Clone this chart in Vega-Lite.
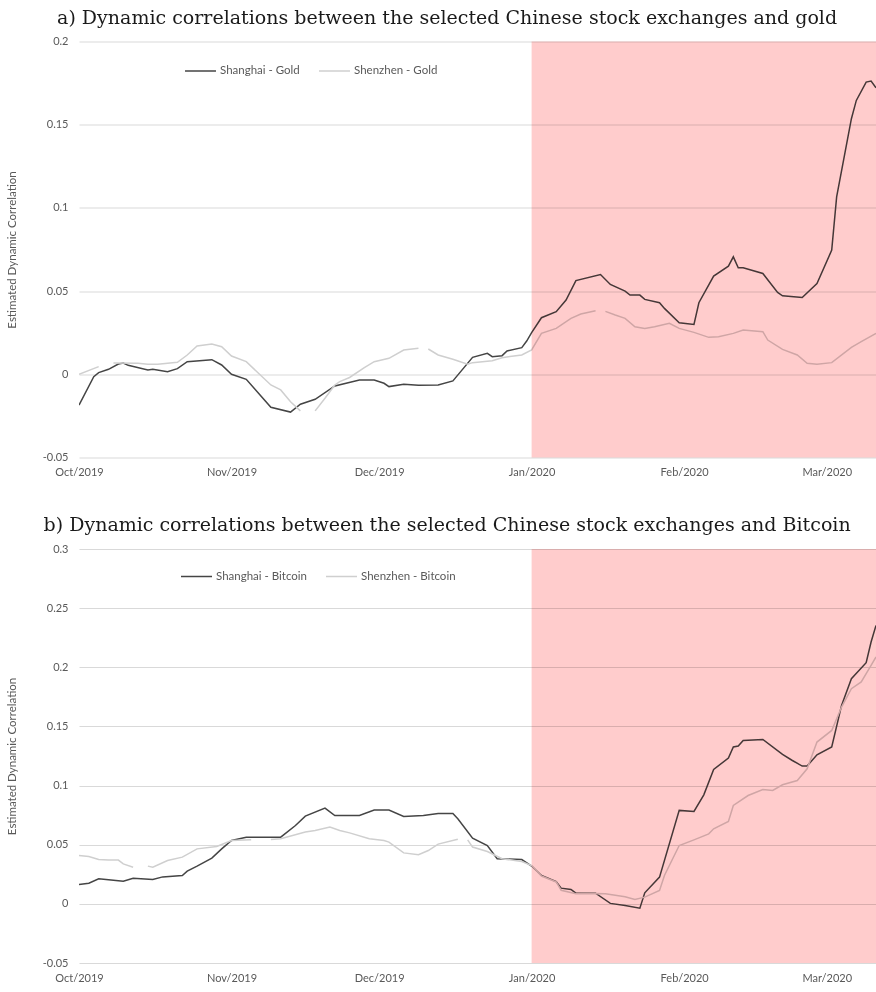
{
  "$schema": "https://vega.github.io/schema/vega-lite/v6.json",
  "background": "white",
  "padding": {"left": 6, "top": 8.5, "right": 0, "bottom": 0},
  "spacing": 38.5,
  "config": {
    "view": {"stroke": null},
    "font": "Lato",
    "axis": {
      "labelFont": "Lato", "labelFontSize": 11, "labelColor": "#595959",
      "titleFont": "Lato", "titleFontSize": 11.5, "titleColor": "#595959", "titleFontWeight": "normal",
      "domain": false, "ticks": false, "gridColor": "#d9d9d9", "gridWidth": 1
    },
    "title": {"font": "DejaVu Serif", "fontSize": 19, "fontWeight": "normal", "color": "#1a1a1a", "anchor": "middle", "frame": "bounds", "offset": 8, "dx": 6},
    "legend": {
      "orient": "none", "direction": "horizontal", "title": null, "padding": 0,
      "symbolType": "stroke", "symbolSize": 960, "symbolStrokeWidth": 1.5,
      "labelFont": "Lato", "labelFontSize": 11.5, "labelColor": "#595959", "labelOffset": 3,
      "columnPadding": 16
    }
  },
  "datasets": {
    "gold": [
      {"date": "2019-10-01", "series": "Shanghai - Gold", "value": -0.0185},
      {"date": "2019-10-04", "series": "Shanghai - Gold", "value": -0.0014},
      {"date": "2019-10-05", "series": "Shanghai - Gold", "value": 0.001},
      {"date": "2019-10-07", "series": "Shanghai - Gold", "value": 0.003},
      {"date": "2019-10-09", "series": "Shanghai - Gold", "value": 0.0062},
      {"date": "2019-10-10", "series": "Shanghai - Gold", "value": 0.0068},
      {"date": "2019-10-11", "series": "Shanghai - Gold", "value": 0.0054},
      {"date": "2019-10-15", "series": "Shanghai - Gold", "value": 0.0026},
      {"date": "2019-10-16", "series": "Shanghai - Gold", "value": 0.003},
      {"date": "2019-10-19", "series": "Shanghai - Gold", "value": 0.0016},
      {"date": "2019-10-21", "series": "Shanghai - Gold", "value": 0.0034},
      {"date": "2019-10-23", "series": "Shanghai - Gold", "value": 0.0076},
      {"date": "2019-10-28", "series": "Shanghai - Gold", "value": 0.0088},
      {"date": "2019-10-30", "series": "Shanghai - Gold", "value": 0.0056},
      {"date": "2019-11-01", "series": "Shanghai - Gold", "value": 0.0},
      {"date": "2019-11-04", "series": "Shanghai - Gold", "value": -0.003},
      {"date": "2019-11-09", "series": "Shanghai - Gold", "value": -0.0198},
      {"date": "2019-11-13", "series": "Shanghai - Gold", "value": -0.0227},
      {"date": "2019-11-15", "series": "Shanghai - Gold", "value": -0.018},
      {"date": "2019-11-18", "series": "Shanghai - Gold", "value": -0.015},
      {"date": "2019-11-22", "series": "Shanghai - Gold", "value": -0.007},
      {"date": "2019-11-27", "series": "Shanghai - Gold", "value": -0.0034},
      {"date": "2019-11-30", "series": "Shanghai - Gold", "value": -0.0034},
      {"date": "2019-12-02", "series": "Shanghai - Gold", "value": -0.0054},
      {"date": "2019-12-03", "series": "Shanghai - Gold", "value": -0.0074},
      {"date": "2019-12-06", "series": "Shanghai - Gold", "value": -0.006},
      {"date": "2019-12-09", "series": "Shanghai - Gold", "value": -0.0066},
      {"date": "2019-12-13", "series": "Shanghai - Gold", "value": -0.0064},
      {"date": "2019-12-16", "series": "Shanghai - Gold", "value": -0.004},
      {"date": "2019-12-20", "series": "Shanghai - Gold", "value": 0.0102},
      {"date": "2019-12-23", "series": "Shanghai - Gold", "value": 0.0126},
      {"date": "2019-12-24", "series": "Shanghai - Gold", "value": 0.0106},
      {"date": "2019-12-26", "series": "Shanghai - Gold", "value": 0.0112},
      {"date": "2019-12-27", "series": "Shanghai - Gold", "value": 0.014},
      {"date": "2019-12-30", "series": "Shanghai - Gold", "value": 0.016},
      {"date": "2019-12-31", "series": "Shanghai - Gold", "value": 0.02},
      {"date": "2020-01-01", "series": "Shanghai - Gold", "value": 0.025},
      {"date": "2020-01-03", "series": "Shanghai - Gold", "value": 0.034},
      {"date": "2020-01-06", "series": "Shanghai - Gold", "value": 0.0376},
      {"date": "2020-01-08", "series": "Shanghai - Gold", "value": 0.0446},
      {"date": "2020-01-10", "series": "Shanghai - Gold", "value": 0.0563},
      {"date": "2020-01-15", "series": "Shanghai - Gold", "value": 0.06},
      {"date": "2020-01-17", "series": "Shanghai - Gold", "value": 0.054},
      {"date": "2020-01-20", "series": "Shanghai - Gold", "value": 0.05},
      {"date": "2020-01-21", "series": "Shanghai - Gold", "value": 0.0476},
      {"date": "2020-01-23", "series": "Shanghai - Gold", "value": 0.0476},
      {"date": "2020-01-24", "series": "Shanghai - Gold", "value": 0.045},
      {"date": "2020-01-27", "series": "Shanghai - Gold", "value": 0.043},
      {"date": "2020-01-28", "series": "Shanghai - Gold", "value": 0.0396},
      {"date": "2020-01-31", "series": "Shanghai - Gold", "value": 0.031},
      {"date": "2020-02-03", "series": "Shanghai - Gold", "value": 0.03},
      {"date": "2020-02-04", "series": "Shanghai - Gold", "value": 0.043},
      {"date": "2020-02-07", "series": "Shanghai - Gold", "value": 0.059},
      {"date": "2020-02-10", "series": "Shanghai - Gold", "value": 0.065},
      {"date": "2020-02-11", "series": "Shanghai - Gold", "value": 0.0706},
      {"date": "2020-02-12", "series": "Shanghai - Gold", "value": 0.064},
      {"date": "2020-02-13", "series": "Shanghai - Gold", "value": 0.064},
      {"date": "2020-02-17", "series": "Shanghai - Gold", "value": 0.0606},
      {"date": "2020-02-20", "series": "Shanghai - Gold", "value": 0.0492},
      {"date": "2020-02-21", "series": "Shanghai - Gold", "value": 0.0472},
      {"date": "2020-02-25", "series": "Shanghai - Gold", "value": 0.0462},
      {"date": "2020-02-28", "series": "Shanghai - Gold", "value": 0.0546},
      {"date": "2020-03-02", "series": "Shanghai - Gold", "value": 0.0746},
      {"date": "2020-03-03", "series": "Shanghai - Gold", "value": 0.1066},
      {"date": "2020-03-06", "series": "Shanghai - Gold", "value": 0.1536},
      {"date": "2020-03-07", "series": "Shanghai - Gold", "value": 0.1646},
      {"date": "2020-03-09", "series": "Shanghai - Gold", "value": 0.1756},
      {"date": "2020-03-10", "series": "Shanghai - Gold", "value": 0.1762},
      {"date": "2020-03-11", "series": "Shanghai - Gold", "value": 0.1722},
      {"date": "2019-10-01", "series": "Shenzhen - Gold", "value": 0.0},
      {"date": "2019-10-05", "series": "Shenzhen - Gold", "value": 0.0046},
      {"date": "2019-10-06", "series": "Shenzhen - Gold", "value": null},
      {"date": "2019-10-08", "series": "Shenzhen - Gold", "value": 0.0068},
      {"date": "2019-10-13", "series": "Shenzhen - Gold", "value": 0.0066},
      {"date": "2019-10-15", "series": "Shenzhen - Gold", "value": 0.006},
      {"date": "2019-10-17", "series": "Shenzhen - Gold", "value": 0.006},
      {"date": "2019-10-21", "series": "Shenzhen - Gold", "value": 0.0072},
      {"date": "2019-10-23", "series": "Shenzhen - Gold", "value": 0.0116},
      {"date": "2019-10-25", "series": "Shenzhen - Gold", "value": 0.017},
      {"date": "2019-10-28", "series": "Shenzhen - Gold", "value": 0.0182},
      {"date": "2019-10-30", "series": "Shenzhen - Gold", "value": 0.0166},
      {"date": "2019-11-01", "series": "Shenzhen - Gold", "value": 0.011},
      {"date": "2019-11-04", "series": "Shenzhen - Gold", "value": 0.0076},
      {"date": "2019-11-09", "series": "Shenzhen - Gold", "value": -0.0064},
      {"date": "2019-11-11", "series": "Shenzhen - Gold", "value": -0.0094},
      {"date": "2019-11-13", "series": "Shenzhen - Gold", "value": -0.0165},
      {"date": "2019-11-15", "series": "Shenzhen - Gold", "value": -0.022},
      {"date": "2019-11-16", "series": "Shenzhen - Gold", "value": null},
      {"date": "2019-11-18", "series": "Shenzhen - Gold", "value": -0.022},
      {"date": "2019-11-20", "series": "Shenzhen - Gold", "value": -0.0144},
      {"date": "2019-11-22", "series": "Shenzhen - Gold", "value": -0.0064},
      {"date": "2019-11-23", "series": "Shenzhen - Gold", "value": -0.0044},
      {"date": "2019-11-25", "series": "Shenzhen - Gold", "value": -0.0019},
      {"date": "2019-11-28", "series": "Shenzhen - Gold", "value": 0.004},
      {"date": "2019-11-30", "series": "Shenzhen - Gold", "value": 0.0076},
      {"date": "2019-12-03", "series": "Shenzhen - Gold", "value": 0.0096},
      {"date": "2019-12-06", "series": "Shenzhen - Gold", "value": 0.0146},
      {"date": "2019-12-09", "series": "Shenzhen - Gold", "value": 0.0156},
      {"date": "2019-12-10", "series": "Shenzhen - Gold", "value": null},
      {"date": "2019-12-11", "series": "Shenzhen - Gold", "value": 0.0152},
      {"date": "2019-12-13", "series": "Shenzhen - Gold", "value": 0.0116},
      {"date": "2019-12-16", "series": "Shenzhen - Gold", "value": 0.009},
      {"date": "2019-12-19", "series": "Shenzhen - Gold", "value": 0.006},
      {"date": "2019-12-20", "series": "Shenzhen - Gold", "value": 0.007},
      {"date": "2019-12-24", "series": "Shenzhen - Gold", "value": 0.0082},
      {"date": "2019-12-26", "series": "Shenzhen - Gold", "value": 0.01},
      {"date": "2019-12-30", "series": "Shenzhen - Gold", "value": 0.0116},
      {"date": "2020-01-01", "series": "Shenzhen - Gold", "value": 0.0146},
      {"date": "2020-01-03", "series": "Shenzhen - Gold", "value": 0.0246},
      {"date": "2020-01-06", "series": "Shenzhen - Gold", "value": 0.0276},
      {"date": "2020-01-09", "series": "Shenzhen - Gold", "value": 0.0336},
      {"date": "2020-01-11", "series": "Shenzhen - Gold", "value": 0.0362},
      {"date": "2020-01-14", "series": "Shenzhen - Gold", "value": 0.0382},
      {"date": "2020-01-15", "series": "Shenzhen - Gold", "value": null},
      {"date": "2020-01-16", "series": "Shenzhen - Gold", "value": 0.0378},
      {"date": "2020-01-18", "series": "Shenzhen - Gold", "value": 0.0356},
      {"date": "2020-01-20", "series": "Shenzhen - Gold", "value": 0.0336},
      {"date": "2020-01-22", "series": "Shenzhen - Gold", "value": 0.0286},
      {"date": "2020-01-24", "series": "Shenzhen - Gold", "value": 0.0276},
      {"date": "2020-01-26", "series": "Shenzhen - Gold", "value": 0.0286},
      {"date": "2020-01-29", "series": "Shenzhen - Gold", "value": 0.0306},
      {"date": "2020-01-31", "series": "Shenzhen - Gold", "value": 0.0276},
      {"date": "2020-02-03", "series": "Shenzhen - Gold", "value": 0.0252},
      {"date": "2020-02-06", "series": "Shenzhen - Gold", "value": 0.0222},
      {"date": "2020-02-08", "series": "Shenzhen - Gold", "value": 0.0226},
      {"date": "2020-02-11", "series": "Shenzhen - Gold", "value": 0.0246},
      {"date": "2020-02-13", "series": "Shenzhen - Gold", "value": 0.0266},
      {"date": "2020-02-17", "series": "Shenzhen - Gold", "value": 0.0256},
      {"date": "2020-02-18", "series": "Shenzhen - Gold", "value": 0.0206},
      {"date": "2020-02-21", "series": "Shenzhen - Gold", "value": 0.015},
      {"date": "2020-02-24", "series": "Shenzhen - Gold", "value": 0.0116},
      {"date": "2020-02-26", "series": "Shenzhen - Gold", "value": 0.0066},
      {"date": "2020-02-28", "series": "Shenzhen - Gold", "value": 0.006},
      {"date": "2020-03-02", "series": "Shenzhen - Gold", "value": 0.007},
      {"date": "2020-03-06", "series": "Shenzhen - Gold", "value": 0.0162},
      {"date": "2020-03-08", "series": "Shenzhen - Gold", "value": 0.0196},
      {"date": "2020-03-11", "series": "Shenzhen - Gold", "value": 0.0246}
    ],
    "bitcoin": [
      {"date": "2019-10-01", "series": "Shanghai - Bitcoin", "value": 0.0163},
      {"date": "2019-10-03", "series": "Shanghai - Bitcoin", "value": 0.0175},
      {"date": "2019-10-05", "series": "Shanghai - Bitcoin", "value": 0.0212},
      {"date": "2019-10-07", "series": "Shanghai - Bitcoin", "value": 0.0203},
      {"date": "2019-10-10", "series": "Shanghai - Bitcoin", "value": 0.0192},
      {"date": "2019-10-12", "series": "Shanghai - Bitcoin", "value": 0.0217},
      {"date": "2019-10-16", "series": "Shanghai - Bitcoin", "value": 0.0206},
      {"date": "2019-10-18", "series": "Shanghai - Bitcoin", "value": 0.0228},
      {"date": "2019-10-22", "series": "Shanghai - Bitcoin", "value": 0.024},
      {"date": "2019-10-23", "series": "Shanghai - Bitcoin", "value": 0.0277},
      {"date": "2019-10-25", "series": "Shanghai - Bitcoin", "value": 0.0319},
      {"date": "2019-10-28", "series": "Shanghai - Bitcoin", "value": 0.0387},
      {"date": "2019-10-30", "series": "Shanghai - Bitcoin", "value": 0.0465},
      {"date": "2019-11-01", "series": "Shanghai - Bitcoin", "value": 0.0536},
      {"date": "2019-11-04", "series": "Shanghai - Bitcoin", "value": 0.0564},
      {"date": "2019-11-11", "series": "Shanghai - Bitcoin", "value": 0.0564},
      {"date": "2019-11-14", "series": "Shanghai - Bitcoin", "value": 0.0662},
      {"date": "2019-11-16", "series": "Shanghai - Bitcoin", "value": 0.0742},
      {"date": "2019-11-20", "series": "Shanghai - Bitcoin", "value": 0.081},
      {"date": "2019-11-22", "series": "Shanghai - Bitcoin", "value": 0.0747},
      {"date": "2019-11-27", "series": "Shanghai - Bitcoin", "value": 0.0747},
      {"date": "2019-11-30", "series": "Shanghai - Bitcoin", "value": 0.0793},
      {"date": "2019-12-03", "series": "Shanghai - Bitcoin", "value": 0.0793},
      {"date": "2019-12-06", "series": "Shanghai - Bitcoin", "value": 0.0739},
      {"date": "2019-12-10", "series": "Shanghai - Bitcoin", "value": 0.0747},
      {"date": "2019-12-13", "series": "Shanghai - Bitcoin", "value": 0.0764},
      {"date": "2019-12-16", "series": "Shanghai - Bitcoin", "value": 0.0764},
      {"date": "2019-12-17", "series": "Shanghai - Bitcoin", "value": 0.0719},
      {"date": "2019-12-20", "series": "Shanghai - Bitcoin", "value": 0.0556},
      {"date": "2019-12-23", "series": "Shanghai - Bitcoin", "value": 0.0493},
      {"date": "2019-12-25", "series": "Shanghai - Bitcoin", "value": 0.0381},
      {"date": "2019-12-30", "series": "Shanghai - Bitcoin", "value": 0.0375},
      {"date": "2020-01-01", "series": "Shanghai - Bitcoin", "value": 0.032},
      {"date": "2020-01-03", "series": "Shanghai - Bitcoin", "value": 0.024},
      {"date": "2020-01-06", "series": "Shanghai - Bitcoin", "value": 0.0189},
      {"date": "2020-01-07", "series": "Shanghai - Bitcoin", "value": 0.0133},
      {"date": "2020-01-09", "series": "Shanghai - Bitcoin", "value": 0.0122},
      {"date": "2020-01-10", "series": "Shanghai - Bitcoin", "value": 0.009},
      {"date": "2020-01-14", "series": "Shanghai - Bitcoin", "value": 0.009},
      {"date": "2020-01-17", "series": "Shanghai - Bitcoin", "value": 0.0004},
      {"date": "2020-01-20", "series": "Shanghai - Bitcoin", "value": -0.0014},
      {"date": "2020-01-23", "series": "Shanghai - Bitcoin", "value": -0.0037},
      {"date": "2020-01-24", "series": "Shanghai - Bitcoin", "value": 0.0093},
      {"date": "2020-01-27", "series": "Shanghai - Bitcoin", "value": 0.0226},
      {"date": "2020-01-31", "series": "Shanghai - Bitcoin", "value": 0.079},
      {"date": "2020-02-03", "series": "Shanghai - Bitcoin", "value": 0.0781},
      {"date": "2020-02-05", "series": "Shanghai - Bitcoin", "value": 0.0922},
      {"date": "2020-02-07", "series": "Shanghai - Bitcoin", "value": 0.1136},
      {"date": "2020-02-10", "series": "Shanghai - Bitcoin", "value": 0.1233},
      {"date": "2020-02-11", "series": "Shanghai - Bitcoin", "value": 0.1326},
      {"date": "2020-02-12", "series": "Shanghai - Bitcoin", "value": 0.1334},
      {"date": "2020-02-13", "series": "Shanghai - Bitcoin", "value": 0.1382},
      {"date": "2020-02-17", "series": "Shanghai - Bitcoin", "value": 0.139},
      {"date": "2020-02-21", "series": "Shanghai - Bitcoin", "value": 0.1263},
      {"date": "2020-02-23", "series": "Shanghai - Bitcoin", "value": 0.1212},
      {"date": "2020-02-25", "series": "Shanghai - Bitcoin", "value": 0.1165},
      {"date": "2020-02-26", "series": "Shanghai - Bitcoin", "value": 0.1165},
      {"date": "2020-02-28", "series": "Shanghai - Bitcoin", "value": 0.126},
      {"date": "2020-03-02", "series": "Shanghai - Bitcoin", "value": 0.1326},
      {"date": "2020-03-04", "series": "Shanghai - Bitcoin", "value": 0.1678},
      {"date": "2020-03-06", "series": "Shanghai - Bitcoin", "value": 0.1904},
      {"date": "2020-03-09", "series": "Shanghai - Bitcoin", "value": 0.2039},
      {"date": "2020-03-10", "series": "Shanghai - Bitcoin", "value": 0.2214},
      {"date": "2020-03-11", "series": "Shanghai - Bitcoin", "value": 0.2354},
      {"date": "2019-10-01", "series": "Shenzhen - Bitcoin", "value": 0.0409},
      {"date": "2019-10-03", "series": "Shenzhen - Bitcoin", "value": 0.04},
      {"date": "2019-10-05", "series": "Shenzhen - Bitcoin", "value": 0.0375},
      {"date": "2019-10-07", "series": "Shenzhen - Bitcoin", "value": 0.037},
      {"date": "2019-10-09", "series": "Shenzhen - Bitcoin", "value": 0.037},
      {"date": "2019-10-10", "series": "Shenzhen - Bitcoin", "value": 0.0338},
      {"date": "2019-10-12", "series": "Shenzhen - Bitcoin", "value": 0.031},
      {"date": "2019-10-13", "series": "Shenzhen - Bitcoin", "value": null},
      {"date": "2019-10-15", "series": "Shenzhen - Bitcoin", "value": 0.0319},
      {"date": "2019-10-16", "series": "Shenzhen - Bitcoin", "value": 0.031},
      {"date": "2019-10-19", "series": "Shenzhen - Bitcoin", "value": 0.0366},
      {"date": "2019-10-22", "series": "Shenzhen - Bitcoin", "value": 0.0395},
      {"date": "2019-10-25", "series": "Shenzhen - Bitcoin", "value": 0.0465},
      {"date": "2019-10-29", "series": "Shenzhen - Bitcoin", "value": 0.0485},
      {"date": "2019-11-01", "series": "Shenzhen - Bitcoin", "value": 0.0536},
      {"date": "2019-11-05", "series": "Shenzhen - Bitcoin", "value": 0.0541},
      {"date": "2019-11-07", "series": "Shenzhen - Bitcoin", "value": null},
      {"date": "2019-11-09", "series": "Shenzhen - Bitcoin", "value": 0.0544},
      {"date": "2019-11-11", "series": "Shenzhen - Bitcoin", "value": 0.055},
      {"date": "2019-11-16", "series": "Shenzhen - Bitcoin", "value": 0.0607},
      {"date": "2019-11-18", "series": "Shenzhen - Bitcoin", "value": 0.062},
      {"date": "2019-11-21", "series": "Shenzhen - Bitcoin", "value": 0.0649},
      {"date": "2019-11-23", "series": "Shenzhen - Bitcoin", "value": 0.062},
      {"date": "2019-11-25", "series": "Shenzhen - Bitcoin", "value": 0.06},
      {"date": "2019-11-29", "series": "Shenzhen - Bitcoin", "value": 0.055},
      {"date": "2019-12-02", "series": "Shenzhen - Bitcoin", "value": 0.0536},
      {"date": "2019-12-03", "series": "Shenzhen - Bitcoin", "value": 0.0522},
      {"date": "2019-12-06", "series": "Shenzhen - Bitcoin", "value": 0.0431},
      {"date": "2019-12-09", "series": "Shenzhen - Bitcoin", "value": 0.0415},
      {"date": "2019-12-11", "series": "Shenzhen - Bitcoin", "value": 0.0451},
      {"date": "2019-12-13", "series": "Shenzhen - Bitcoin", "value": 0.0505},
      {"date": "2019-12-17", "series": "Shenzhen - Bitcoin", "value": 0.0547},
      {"date": "2019-12-18", "series": "Shenzhen - Bitcoin", "value": null},
      {"date": "2019-12-19", "series": "Shenzhen - Bitcoin", "value": 0.0541},
      {"date": "2019-12-20", "series": "Shenzhen - Bitcoin", "value": 0.048},
      {"date": "2019-12-23", "series": "Shenzhen - Bitcoin", "value": 0.0443},
      {"date": "2019-12-26", "series": "Shenzhen - Bitcoin", "value": 0.0381},
      {"date": "2019-12-30", "series": "Shenzhen - Bitcoin", "value": 0.0358},
      {"date": "2020-01-01", "series": "Shenzhen - Bitcoin", "value": 0.0324},
      {"date": "2020-01-03", "series": "Shenzhen - Bitcoin", "value": 0.0235},
      {"date": "2020-01-06", "series": "Shenzhen - Bitcoin", "value": 0.0185},
      {"date": "2020-01-07", "series": "Shenzhen - Bitcoin", "value": 0.0115},
      {"date": "2020-01-10", "series": "Shenzhen - Bitcoin", "value": 0.0085},
      {"date": "2020-01-14", "series": "Shenzhen - Bitcoin", "value": 0.0088},
      {"date": "2020-01-16", "series": "Shenzhen - Bitcoin", "value": 0.0085},
      {"date": "2020-01-20", "series": "Shenzhen - Bitcoin", "value": 0.006},
      {"date": "2020-01-22", "series": "Shenzhen - Bitcoin", "value": 0.0037},
      {"date": "2020-01-24", "series": "Shenzhen - Bitcoin", "value": 0.0057},
      {"date": "2020-01-27", "series": "Shenzhen - Bitcoin", "value": 0.0113},
      {"date": "2020-01-28", "series": "Shenzhen - Bitcoin", "value": 0.024},
      {"date": "2020-01-31", "series": "Shenzhen - Bitcoin", "value": 0.0493},
      {"date": "2020-02-03", "series": "Shenzhen - Bitcoin", "value": 0.0541},
      {"date": "2020-02-06", "series": "Shenzhen - Bitcoin", "value": 0.0592},
      {"date": "2020-02-07", "series": "Shenzhen - Bitcoin", "value": 0.0635},
      {"date": "2020-02-10", "series": "Shenzhen - Bitcoin", "value": 0.0696},
      {"date": "2020-02-11", "series": "Shenzhen - Bitcoin", "value": 0.0832},
      {"date": "2020-02-14", "series": "Shenzhen - Bitcoin", "value": 0.0916},
      {"date": "2020-02-17", "series": "Shenzhen - Bitcoin", "value": 0.0967},
      {"date": "2020-02-19", "series": "Shenzhen - Bitcoin", "value": 0.0959},
      {"date": "2020-02-21", "series": "Shenzhen - Bitcoin", "value": 0.1007},
      {"date": "2020-02-24", "series": "Shenzhen - Bitcoin", "value": 0.1043},
      {"date": "2020-02-26", "series": "Shenzhen - Bitcoin", "value": 0.1142},
      {"date": "2020-02-28", "series": "Shenzhen - Bitcoin", "value": 0.1368},
      {"date": "2020-03-02", "series": "Shenzhen - Bitcoin", "value": 0.1466},
      {"date": "2020-03-04", "series": "Shenzhen - Bitcoin", "value": 0.1664},
      {"date": "2020-03-06", "series": "Shenzhen - Bitcoin", "value": 0.1819},
      {"date": "2020-03-08", "series": "Shenzhen - Bitcoin", "value": 0.1876},
      {"date": "2020-03-10", "series": "Shenzhen - Bitcoin", "value": 0.2016},
      {"date": "2020-03-11", "series": "Shenzhen - Bitcoin", "value": 0.2087}
    ],
    "period": [
      {"date": "2020-01-01", "date_end": "2020-03-11"}
    ]
  },
  "vconcat": [
    {
      "width": 797,
      "height": 416,
      "title": {"text": "a) Dynamic correlations between the selected Chinese stock exchanges and gold"},
      "encoding": {
        "x": {
          "field": "date", "type": "temporal", "title": null,
          "scale": {"type": "utc", "domain": [{"year": 2019, "month": 10, "date": 1, "utc": true}, {"year": 2020, "month": 3, "date": 11, "utc": true}]},
          "axis": {
            "format": "%b/%Y", "grid": false, "labelPadding": 9, "labelFlush": false,
            "values": [
              {"year": 2019, "month": 10, "date": 1, "utc": true},
              {"year": 2019, "month": 11, "date": 1, "utc": true},
              {"year": 2019, "month": 12, "date": 1, "utc": true},
              {"year": 2020, "month": 1, "date": 1, "utc": true},
              {"year": 2020, "month": 2, "date": 1, "utc": true},
              {"year": 2020, "month": 3, "date": 1, "utc": true}
            ]
          }
        }
      },
      "layer": [
        {
          "data": {"name": "gold"},
          "mark": {"type": "line", "strokeWidth": 1.5, "invalid": "break-paths-show-domains", "clip": true},
          "encoding": {
            "y": {
              "field": "value", "type": "quantitative", "title": "Estimated Dynamic Correlation",
              "scale": {"domain": [-0.05, 0.2], "nice": false, "zero": false},
              "axis": {"values": [-0.05, 0, 0.05, 0.1, 0.15, 0.2], "labelExpr": "'' + datum.value", "labelPadding": 11, "titlePadding": 25}
            },
            "color": {
              "field": "series", "type": "nominal",
              "scale": {"domain": ["Shanghai - Gold", "Shenzhen - Gold"], "range": ["#454545", "#cfcfcf"]},
              "legend": {"legendX": 105, "legendY": 13}
            }
          }
        },
        {
          "data": {"name": "period"},
          "mark": {"type": "rect", "fill": "#ffcccc", "blend": "multiply"},
          "encoding": {"x2": {"field": "date_end"}}
        }
      ]
    },
    {
      "width": 797,
      "height": 414,
      "title": {"text": "b) Dynamic correlations between the selected Chinese stock exchanges and Bitcoin"},
      "encoding": {
        "x": {
          "field": "date", "type": "temporal", "title": null,
          "scale": {"type": "utc", "domain": [{"year": 2019, "month": 10, "date": 1, "utc": true}, {"year": 2020, "month": 3, "date": 11, "utc": true}]},
          "axis": {
            "format": "%b/%Y", "grid": false, "labelPadding": 9, "labelFlush": false,
            "values": [
              {"year": 2019, "month": 10, "date": 1, "utc": true},
              {"year": 2019, "month": 11, "date": 1, "utc": true},
              {"year": 2019, "month": 12, "date": 1, "utc": true},
              {"year": 2020, "month": 1, "date": 1, "utc": true},
              {"year": 2020, "month": 2, "date": 1, "utc": true},
              {"year": 2020, "month": 3, "date": 1, "utc": true}
            ]
          }
        }
      },
      "layer": [
        {
          "data": {"name": "bitcoin"},
          "mark": {"type": "line", "strokeWidth": 1.5, "invalid": "break-paths-show-domains", "clip": true},
          "encoding": {
            "y": {
              "field": "value", "type": "quantitative", "title": "Estimated Dynamic Correlation",
              "scale": {"domain": [-0.05, 0.3], "nice": false, "zero": false},
              "axis": {"values": [-0.05, 0, 0.05, 0.1, 0.15, 0.2, 0.25, 0.3], "labelExpr": "'' + datum.value", "labelPadding": 11, "titlePadding": 25}
            },
            "color": {
              "field": "series", "type": "nominal",
              "scale": {"domain": ["Shanghai - Bitcoin", "Shenzhen - Bitcoin"], "range": ["#454545", "#cfcfcf"]},
              "legend": {"legendX": 101, "legendY": 11}
            }
          }
        },
        {
          "data": {"name": "period"},
          "mark": {"type": "rect", "fill": "#ffcccc", "blend": "multiply"},
          "encoding": {"x2": {"field": "date_end"}}
        }
      ]
    }
  ],
  "resolve": {"scale": {"color": "independent"}, "legend": {"color": "independent"}}
}
